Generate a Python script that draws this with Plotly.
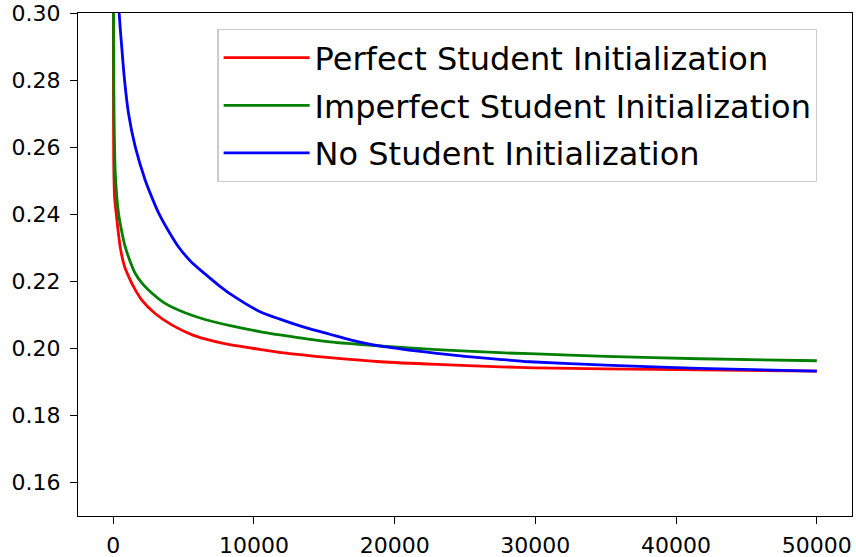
import plotly.graph_objects as go

# Perfect Student Initialization
perfect_x = [0, 20, 40, 100, 213, 496, 800, 1206, 1600, 2033, 2979, 4161, 5579, 6525, 8000,
             10400, 12000, 15400, 19000, 23000, 27500, 30000, 35000, 41600, 50000]
perfect_y = [0.36, 0.28, 0.255, 0.245, 0.2403, 0.2303, 0.2245, 0.2204, 0.2172, 0.2144, 0.2104,
             0.2070, 0.2041, 0.2028, 0.2013, 0.1997, 0.1987, 0.1972, 0.1960, 0.1952, 0.1945,
             0.1942, 0.1939, 0.1936, 0.1932]

# Imperfect Student Initialization
imperfect_x = [0, 20, 60, 150, 378, 600, 851, 1200, 1560, 2033, 2506, 3688, 5106, 6525, 8400,
               10400, 11844, 15390, 18936, 23000, 27447, 29574, 35000, 41631, 50000]
imperfect_y = [0.36, 0.30, 0.270, 0.252, 0.2403, 0.2350, 0.2303, 0.2260, 0.2224, 0.2195,
               0.2174, 0.2134, 0.2106, 0.2086, 0.2067, 0.2050, 0.2040, 0.2019, 0.2007, 0.1996,
               0.1987, 0.1984, 0.1976, 0.1969, 0.1963]

# No Student Initialization
none_x = [0, 200, 426, 615, 804, 1087, 1560, 2270, 2800, 3215, 3900, 4634, 5500, 6525, 7500,
          8400, 10400, 11844, 13500, 15390, 17000, 18936, 21000, 23000, 25000, 27447, 29574,
          35000, 41631, 50000]
none_y = [0.42, 0.33, 0.300, 0.2895, 0.2801, 0.2701, 0.2602, 0.2502, 0.2445, 0.2405, 0.2352,
          0.2303, 0.2260, 0.2222, 0.2188, 0.2160, 0.2110, 0.2087, 0.2064, 0.2042, 0.2024,
          0.2007, 0.1995, 0.1985, 0.1976, 0.1967, 0.1960, 0.1950, 0.1940, 0.1932]

series = [
    ("Perfect Student Initialization", perfect_x, perfect_y, "#ff0000"),
    ("Imperfect Student Initialization", imperfect_x, imperfect_y, "#008000"),
    ("No Student Initialization", none_x, none_y, "#0000ff"),
]

x_ticks = [0, 10000, 20000, 30000, 40000, 50000]
y_ticks = [0.16, 0.18, 0.20, 0.22, 0.24, 0.26, 0.28, 0.30]

FONT = "DejaVu Sans"

fig = go.Figure()
for i, (name, xs, ys, color) in enumerate(series):
    fig.add_trace(go.Scatter(x=xs, y=ys, mode="lines", name=name,
                             legendgroup=f"g{i}",
                             line=dict(color=color, width=2.8, shape="spline",
                                       smoothing=0.7)))

axis_common = dict(showline=True, linecolor="black", linewidth=1.3, mirror=True,
                   ticks="outside", ticklen=7, tickwidth=1.3, tickcolor="black",
                   showgrid=False, zeroline=False, automargin=False,
                   tickfont=dict(family=FONT, size=22, color="black"))

fig.update_layout(
    width=856, height=557,
    margin=dict(l=78, r=4, t=13, b=41),
    paper_bgcolor="white", plot_bgcolor="white",
    font=dict(family=FONT, size=22, color="black"),
    xaxis=dict(range=[-2500, 52500], tickvals=x_ticks,
               ticktext=[str(v) for v in x_ticks], ticklabelstandoff=2, **axis_common),
    yaxis=dict(range=[0.15, 0.30], tickvals=y_ticks,
               ticktext=[f"{v:.2f}" for v in y_ticks], ticklabelstandoff=5, **axis_common),
    legend=dict(x=0.180, y=0.968, xanchor="left", yanchor="top",
                bgcolor="rgba(255,255,255,0.8)", bordercolor="#cccccc", borderwidth=1.3,
                font=dict(family=FONT, size=32, color="black"),
                tracegroupgap=3, itemwidth=86),
    showlegend=True,
)

fig.write_html("out.html")
